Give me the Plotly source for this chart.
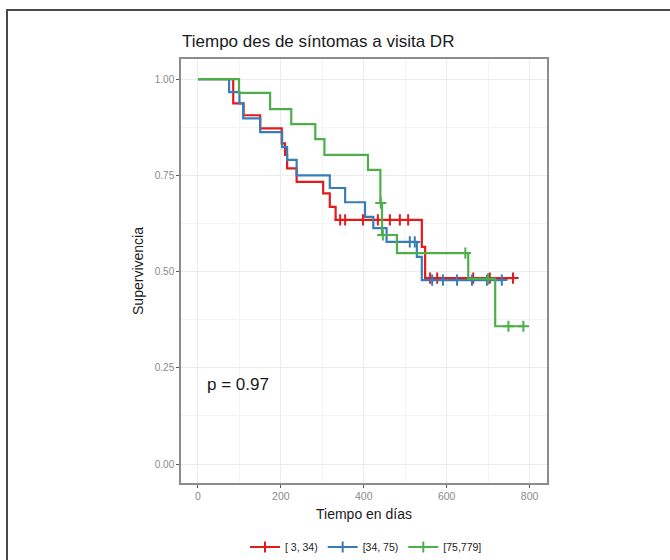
import plotly.graph_objects as go

# ---------------- data ----------------
groups = ["[ 3, 34)", "[34, 75)", "[75,779]"]
colors = ["#E41A1C", "#377EB8", "#4DAF4A"]

red_times = [0, 85, 110, 150, 202, 210, 215, 238, 302, 318, 332, 540, 548]
red_surv = [1.0, 0.937, 0.906, 0.872, 0.833, 0.803, 0.768, 0.733, 0.703, 0.668, 0.634, 0.564, 0.483]
red_cens = [343, 355, 398, 434, 463, 487, 507, 560, 577, 664, 704, 760]

blue_times = [0, 75, 100, 109, 150, 203, 215, 238, 318, 355, 403, 423, 455, 528, 540]
blue_surv = [1.0, 0.966, 0.937, 0.898, 0.862, 0.823, 0.790, 0.750, 0.717, 0.680, 0.642, 0.613, 0.577, 0.538, 0.478]
blue_cens = [511, 523, 565, 591, 625, 661, 697, 733]

green_times = [0, 99, 174, 225, 283, 305, 410, 440, 444, 480, 652, 717]
green_surv = [1.0, 0.964, 0.922, 0.883, 0.844, 0.803, 0.764, 0.678, 0.595, 0.548, 0.481, 0.358]
green_cens = [441, 446, 645, 700, 749, 785]

x_ticks = [0, 200, 400, 600, 800]
y_ticks = [0.0, 0.25, 0.50, 0.75, 1.00]
p_text = "p = 0.97"

# ---------------- layout geometry ----------------
W, H = 670, 560
ML, MR, MT, MB = 181, 123, 59, 77
PW, PH = W - ML - MR, H - MT - MB


def px2paper_x(px):
    return (px - ML) / PW


def px2paper_y(py):
    return (H - MB - py) / PH


def surv_at(times, surv, t):
    val = surv[0]
    for ti, si in zip(times, surv):
        if ti <= t:
            val = si
    return val


fig = go.Figure()
series = [
    (red_times, red_surv, red_cens),
    (blue_times, blue_surv, blue_cens),
    (green_times, green_surv, green_cens),
]
for (t, s, c), col, name in zip(series, colors, groups):
    end = max(c)
    fig.add_trace(go.Scatter(
        x=list(t) + [end], y=list(s) + [s[-1]], mode="lines",
        line=dict(color=col, width=2.2, shape="hv"),
        showlegend=False, hoverinfo="skip"))
    fig.add_trace(go.Scatter(
        x=c, y=[surv_at(t, s, ci) for ci in c], mode="markers",
        marker=dict(symbol="cross-thin", size=8, line=dict(color=col, width=2)),
        showlegend=False, hoverinfo="skip"))
    fig.add_trace(go.Scatter(
        x=[None], y=[None], mode="lines+markers", name=name,
        line=dict(color=col, width=2.2),
        marker=dict(symbol="cross-thin", size=8, line=dict(color=col, width=2))))

font_family = "Liberation Sans, Arial, sans-serif"

fig.update_layout(
    width=W, height=H,
    margin=dict(l=ML, r=MR, t=MT, b=MB, pad=0, autoexpand=False),
    paper_bgcolor="white", plot_bgcolor="white",
    font=dict(family=font_family, color="#222222"),
    title=dict(text="Tiempo des de síntomas a visita DR", xref="container",
               x=182 / W, xanchor="left", y=1 - 41 / H, yanchor="middle",
               font=dict(size=17, color="#1a1a1a")),
    showlegend=True,
    legend=dict(orientation="h", xref="container", x=366 / W, xanchor="center",
                yref="container", y=1 - 547 / H, yanchor="middle", itemwidth=30,
                font=dict(size=10.5, color="#222222"), bgcolor="rgba(0,0,0,0)"),
    xaxis=dict(range=[-41, 842], tickvals=x_ticks, ticktext=[str(v) for v in x_ticks],
               showgrid=True, gridcolor="#ebebeb", gridwidth=1.3,
               minor=dict(showgrid=True, gridcolor="#f4f4f4", gridwidth=1, dtick=100, tick0=0),
               zeroline=False, showline=True, mirror=True, linecolor="#8c8c8c", linewidth=1.5,
               ticks="outside", ticklen=3, tickcolor="#555555", tickwidth=1.2,
               tickfont=dict(size=10.5, color="#8a8a8a"), automargin=False,
               title=dict(text="Tiempo en días", font=dict(size=14, color="#1a1a1a"), standoff=8)),
    yaxis=dict(range=[-0.049, 1.052], tickvals=y_ticks, ticktext=[f"{v:.2f}" for v in y_ticks],
               showgrid=True, gridcolor="#ebebeb", gridwidth=1.3,
               minor=dict(showgrid=True, gridcolor="#f4f4f4", gridwidth=1, dtick=0.125, tick0=0),
               zeroline=False, showline=True, mirror=True, linecolor="#8c8c8c", linewidth=1.5,
               ticks="outside", ticklen=3, tickcolor="#555555", tickwidth=1.2,
               tickfont=dict(size=10, color="#8a8a8a"), automargin=False,
               title=dict(text="Supervivencia", font=dict(size=14, color="#1a1a1a"), standoff=8)),
    annotations=[dict(text=p_text, x=17, y=0.208, xref="x", yref="y",
                      xanchor="left", yanchor="middle", showarrow=False,
                      font=dict(size=17, color="#1a1a1a"))],
    shapes=[dict(type="path", xref="paper", yref="paper",
                 path=f"M {px2paper_x(7)} {px2paper_y(600)} L {px2paper_x(7)} {px2paper_y(10)} L {px2paper_x(700)} {px2paper_y(10)}",
                 line=dict(color="#4a4a4a", width=2))],
)

fig.write_html("out.html")
